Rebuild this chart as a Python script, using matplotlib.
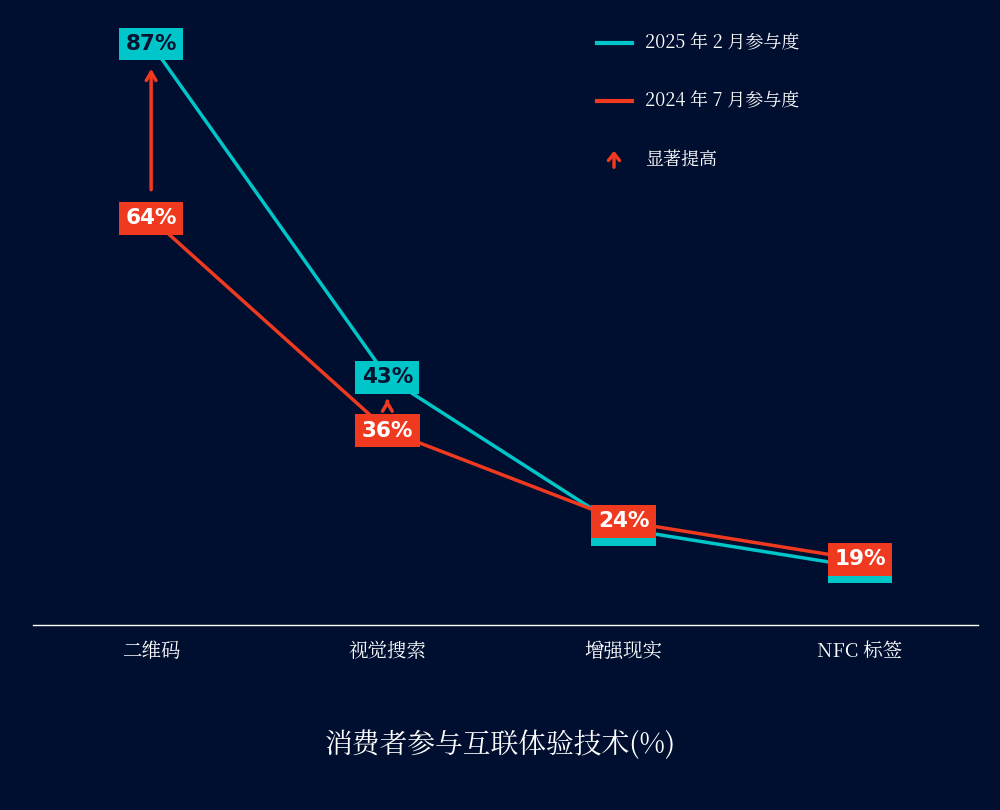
import matplotlib
matplotlib.use("Agg")
import matplotlib.pyplot as plt
from matplotlib.lines import Line2D
from matplotlib import font_manager

cjk = None
for f in font_manager.fontManager.ttflist:
    if "CJK" in f.name and ("SC" in f.name or cjk is None):
        cjk = f.name
        if "SC" in f.name:
            break
plt.rcParams["font.family"] = [cjk or "Noto Sans CJK SC", "DejaVu Sans"]

categories = ["二维码", "视觉搜索", "增强现实", "NFC 标签"]
feb2025 = [87, 43, 23, 18]
jul2024 = [64, 36, 24, 19]
significant = [True, True, False, False]

BG = "#000F30"
TEAL = "#00C6C9"
RED = "#F03A20"

fig = plt.figure(figsize=(10, 8.1), dpi=100, facecolor=BG)
ax = fig.add_axes([0.033, 0.228, 0.945, 0.772], facecolor=BG)
x = list(range(len(categories)))

ax.plot(x, feb2025, color=TEAL, lw=2.5, zorder=2)
ax.plot(x, jul2024, color=RED, lw=2.5, zorder=3)

for i in x:
    ax.text(i, feb2025[i], f"{feb2025[i]}%", ha="center", va="center", fontsize=15.5,
            fontweight="bold", color="#061432", family="DejaVu Sans", zorder=4,
            bbox=dict(boxstyle="square,pad=0.3", fc=TEAL, ec="none"))
for i in x:
    ax.text(i, jul2024[i], f"{jul2024[i]}%", ha="center", va="center", fontsize=15.5,
            fontweight="bold", color="white", family="DejaVu Sans", zorder=5,
            bbox=dict(boxstyle="square,pad=0.3", fc=RED, ec="none"))
    if significant[i]:
        ax.annotate("", xy=(i, feb2025[i] - 2.9), xytext=(i, jul2024[i] + 3.4),
                    arrowprops=dict(arrowstyle="->,head_width=0.35,head_length=0.6",
                                    color=RED, lw=2.5), zorder=3)

ax.set_xlim(-0.5, 3.5)
ax.set_ylim(10.3, 92.8)
ax.set_xticks(x)
ax.set_xticklabels(categories, color="white", fontsize=14)
ax.tick_params(axis="x", length=0, pad=12)
ax.set_yticks([])
for s in ["top", "right", "left"]:
    ax.spines[s].set_visible(False)
ax.spines["bottom"].set_color("white")
ax.spines["bottom"].set_linewidth(1)

fig.text(0.5, 0.08, "消费者参与互联体验技术(%)", ha="center", va="center",
         color="white", fontsize=20)

H, W = 810, 1000
fig.add_artist(Line2D([597/W, 632/W], [1-43/H]*2, color=TEAL, lw=3))
fig.add_artist(Line2D([597/W, 632/W], [1-101/H]*2, color=RED, lw=3))
fig.text(645/W, 1-43/H, "2025 年 2 月参与度", color="white", fontsize=13, va="center")
fig.text(645/W, 1-101/H, "2024 年 7 月参与度", color="white", fontsize=13, va="center")
fig.text(645/W, 1-160/H, "显著提高", color="white", fontsize=13, va="center")
fig.patches.append(matplotlib.patches.FancyArrowPatch(
    (614/W, 1-170/H), (614/W, 1-148/H), transform=fig.transFigure,
    arrowstyle="->,head_width=4,head_length=5", color=RED, lw=2.5))

fig.savefig("out.png", dpi=100, facecolor=BG)
